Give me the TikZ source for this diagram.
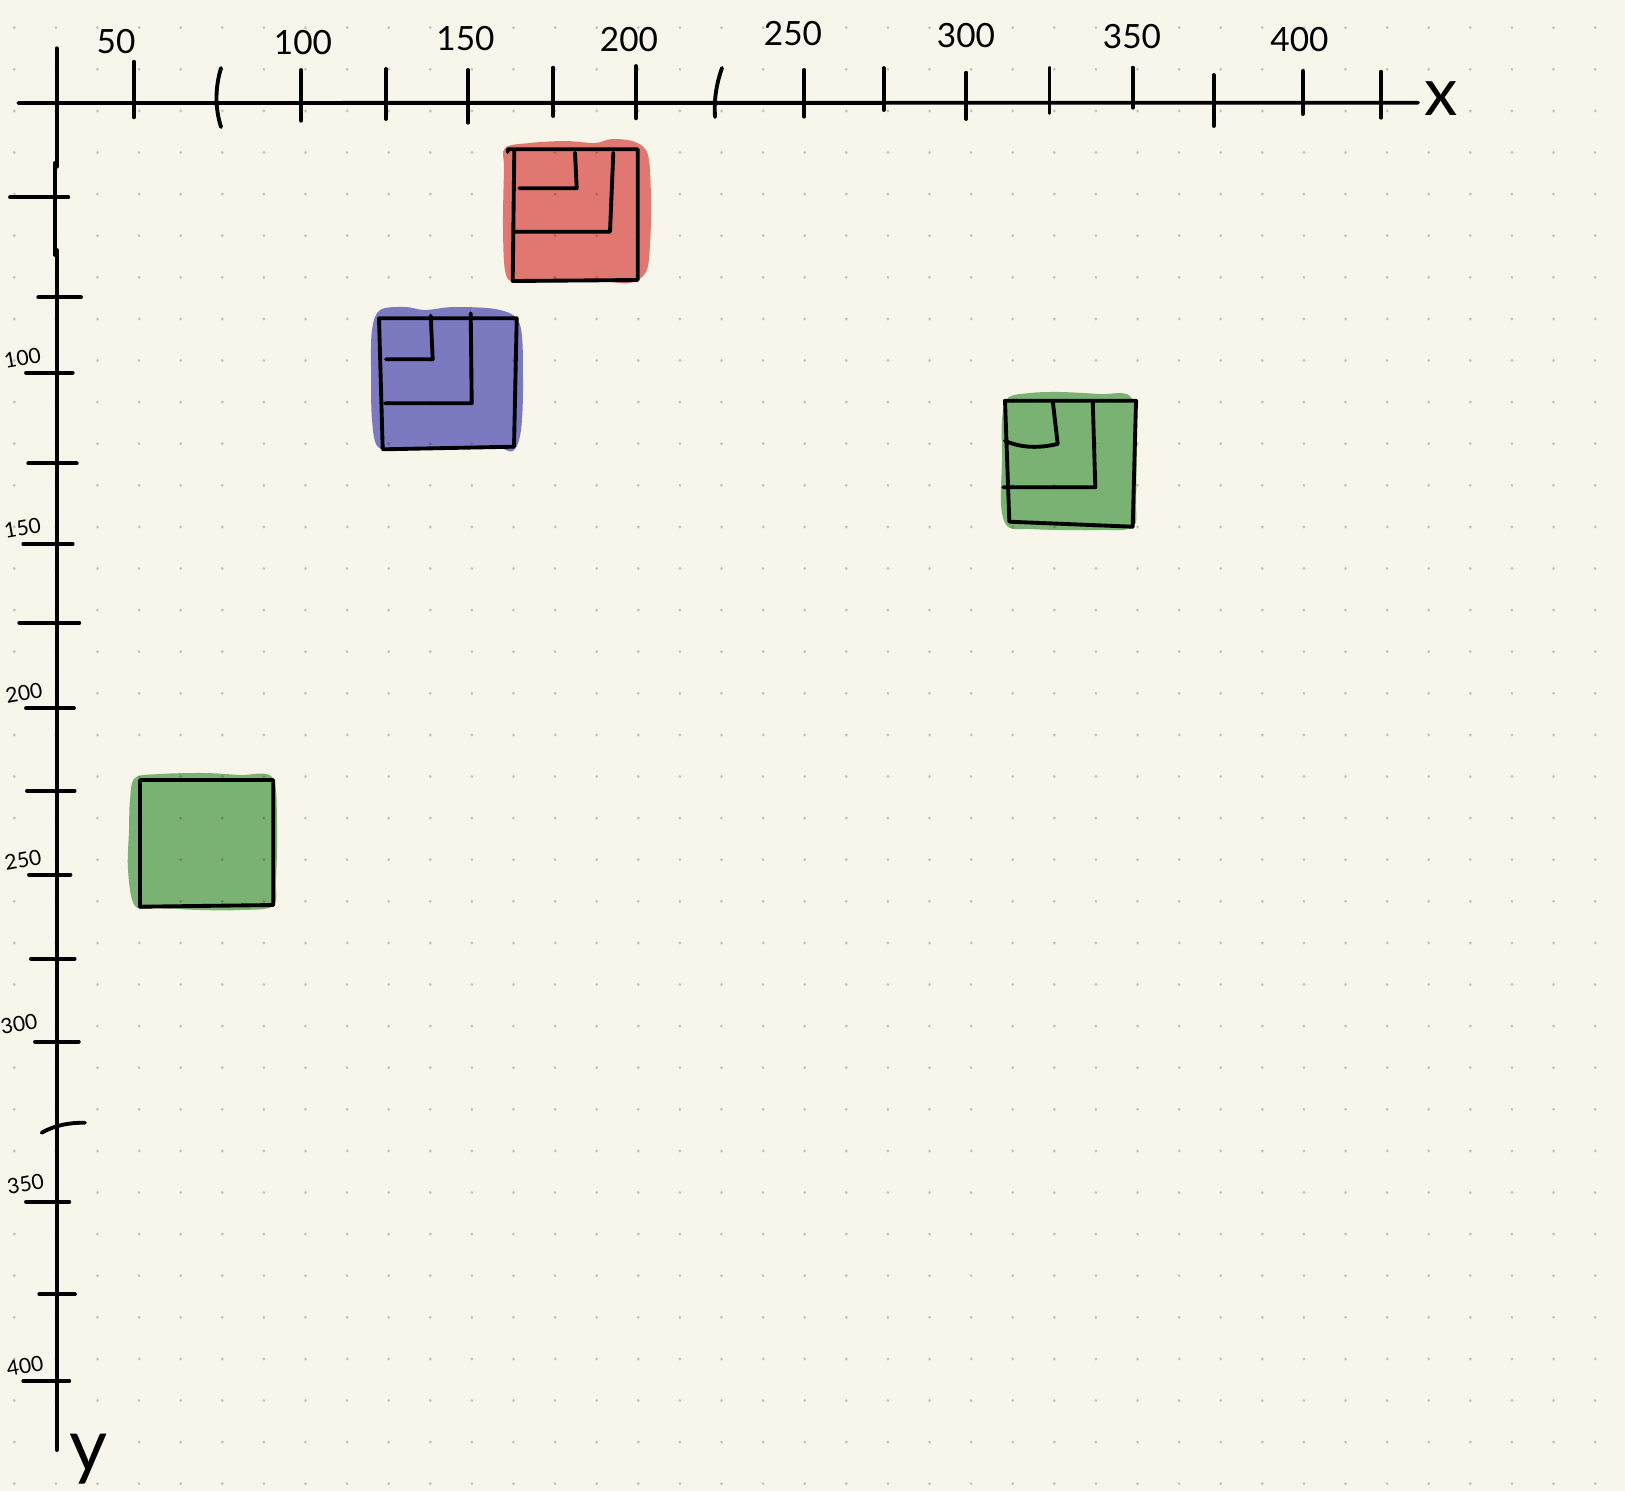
\documentclass[tikz,border=0pt]{standalone}
\usepackage{fontspec}
\setmainfont{Lato}
\definecolor{paper}{HTML}{F8F6EA}
\definecolor{boxRed}{HTML}{E07871}
\definecolor{boxBlue}{HTML}{7B79C0}
\definecolor{boxGreen}{HTML}{7AB273}

\begin{document}
\begin{tikzpicture}[x=0.1mm, y=-0.1mm, line width=1.1pt, line cap=round, line join=round,
          blob/.style={smooth cycle, tension=0.55},
          dotmark/.style={fill=black, opacity=0.2},
          xlab/.style={font=\fontsize{9.5}{9.5}\selectfont, inner sep=0pt},
          ylab/.style={font=\fontsize{6}{6}\selectfont, inner sep=0pt, rotate=10},
          axlab/.style={font=\fontsize{19}{19}\selectfont, inner sep=0pt}]
        % paper
        \fill[paper] (0,0) rectangle (1625,1491);
        \useasboundingbox (0,0) rectangle (1625,1491);
        % colour patches
        \fill[boxRed] plot[blob] coordinates {(504,170) (505,148) (530,143) (565,141) (595,143) (612,139) (635,142) (648,155) (651,200) (650,245) (646,272) (630,283) (600,281) (560,282) (520,282) (506,275) (503,230)};
        \fill[boxBlue] plot[blob] coordinates {(372,330) (380,310) (405,307) (425,310) (455,307) (500,310) (520,325) (523,380) (521,430) (513,451) (495,447) (450,449) (400,450) (378,447) (372,420) (371,370)};
        \fill[boxGreen] plot[blob] coordinates {(1002,420) (1008,398) (1030,393) (1060,392) (1100,394) (1130,396) (1136,430) (1136,500) (1133,527) (1100,530) (1060,530) (1030,529) (1008,527) (1001,505) (1002,460)};
        \fill[boxGreen] plot[blob] coordinates {(130,800) (135,778) (160,774) (205,773) (240,775) (272,777) (277,820) (276,880) (273,906) (240,910) (200,910) (160,908) (135,906) (128,870) (129,830)};
        % dot grid
        \foreach \i in {0,...,38}
          \foreach \j in {0,...,35}
            \fill[dotmark] ({14.3+41.6*\i},{27.7+41.6*\j}) circle[radius=0.16mm];
        % square outlines
        \draw (507.7,152) -- (507.7,149.3) -- (637.7,149.3) -- (637.7,280) -- (512.7,281) -- (514.3,150);
        \draw (575,152.7) -- (576.7,188.3) -- (519.3,188.3);
        \draw (613.3,152.7) -- (610,231.7) -- (515,231.7);
        \draw (379,318.3) -- (516.7,318.3) -- (514,446.7) -- (382.7,449.3) -- cycle;
        \draw (430.7,315.7) -- (432.7,359.3) -- (386,359.3);
        \draw (470.7,313.3) -- (471.7,403.3) -- (385,403.3);
        \draw (1005,400.7) -- (1136,400.7) -- (1132.7,526.7) -- (1009.3,521.7) -- cycle;
        \draw (1052.7,400.7) -- (1057.7,444) .. controls (1035,449) and (1020,447) .. (1005,441);
        \draw (1092.7,400.7) -- (1095.3,487.3) -- (1003.3,487.3);
        \draw (140,780) -- (273.3,780) -- (273.3,905) -- (140,906.7) -- cycle;
        % axes
        \draw (18.3,103) -- (1418,102.7);
        \draw (56.7,48.3) -- (56.7,166.7);
        \draw (55,163) -- (55,255);
        \draw (56.7,250) -- (56.7,1450);
        % x ticks
        \foreach \x/\a/\b in {133.9/61.7/117.3, 301.3/70/120.7, 386/69/119, 468/70/122.7,
            553.3/67.7/116, 636/66/118.3, 804.2/70/116.7, 883.7/68/110, 966.3/72.7/119,
            1049.5/68/112.7, 1132.6/67.7/107.7, 1213.7/75/126, 1302.6/71/114, 1381/71.7/117.7}
          \draw (\x,\a) -- (\x,\b);
        \draw (221,68) .. controls (215,88) and (215,108) .. (221,127);
        \draw (722,68) .. controls (716,85) and (714,100) .. (715,117);
        % y ticks
        \foreach \y/\a/\b in {197.3/10/68.3, 297.3/38.3/81, 372.7/26/72.7, 463.3/28.3/76.7,
            544/23.3/72.7, 622.7/19.3/79.3, 708.3/26/74, 790.8/27/74.6, 874.7/29/70.5,
            958.7/31/74.6, 1041.6/35/78.8, 1201.7/26/69.3, 1294.3/39.3/75, 1381/23.3/69.3}
          \draw (\a,\y) -- (\b,\y);
        \draw (41.7,1132.7) .. controls (55,1125) and (70,1122.5) .. (85,1122.7);
        % labels
        \foreach \v/\x/\y in {50/116/41.7, 100/303/42.7, 150/465.5/38.3, 200/629/40,
            250/793/34, 300/966/36, 350/1132/36.7, 400/1299.5/39.3}
          \node[xlab] (xl\v) at (\x,\y) {\v};
        \foreach \v/\x/\y in {100/22.5/358, 150/22.5/528, 200/24/693, 250/23/860,
            300/19/1024, 350/25.5/1184, 400/25/1366}
          \node[ylab] (yl\v) at (\x,\y) {\v};
        \node[axlab] (xname) at (1441,99) {x};
        \node[axlab, font=\fontsize{21}{21}\selectfont] (yname) at (89,1459) {y};
      \end{tikzpicture}
\end{document}
